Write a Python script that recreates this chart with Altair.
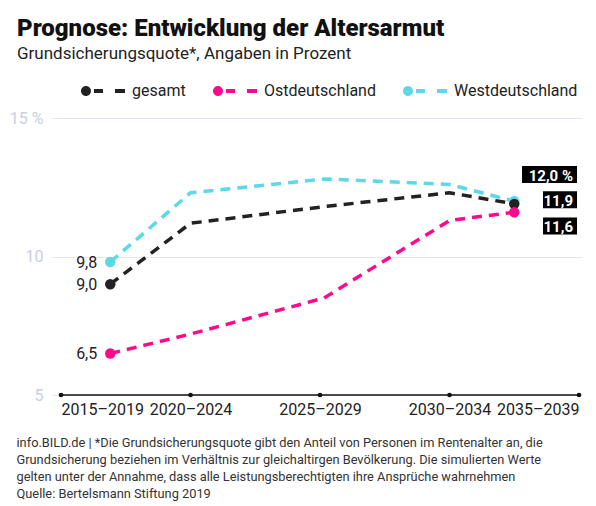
import json
import altair as alt
import pandas as pd

# ---------------- data ----------------
periods = ["2015–2019", "2020–2024", "2025–2029", "2030–2034", "2035–2039"]
# horizontal place of each data point along the period axis (0 = first tick, 4 = last tick)
period_pos = [0.38, 1.0, 2.03, 3.0, 3.5]
series = ["gesamt", "Ostdeutschland", "Westdeutschland"]
gesamt = [9.0, 11.2, 11.8, 12.3, 11.9]
ost = [6.5, 7.2, 8.5, 11.3, 11.6]
west = [9.8, 12.3, 12.8, 12.6, 12.0]
y_ticks = [5, 10, 15]
footer = [
    "info.BILD.de | *Die Grundsicherungsquote gibt den Anteil von Personen im Rentenalter an, die",
    "Grundsicherung beziehen im Verhältnis zur gleichaltirgen Bevölkerung. Die simulierten Werte",
    "gelten unter der Annahme, dass alle Leistungsberechtigten ihre Ansprüche wahrnehmen",
    "Quelle: Bertelsmann Stiftung 2019",
]

# ---------------- styles ----------------
colors = {"gesamt": "#222222", "Ostdeutschland": "#ff0a8c", "Westdeutschland": "#5cd8e6"}
end_label_offset = {"Westdeutschland": -26.5, "gesamt": -4, "Ostdeutschland": 13.8}
FONT = "Roboto"


def de(v):
    return f"{v:.1f}".replace(".", ",")


rows = []
values_by_series = {"Westdeutschland": west, "gesamt": gesamt, "Ostdeutschland": ost}
for s, vals in values_by_series.items():
    for i, v in enumerate(vals):
        rows.append({"series": s, "idx": i, "period": periods[i], "pos": period_pos[i],
                     "value": v, "label": de(v)})
df = pd.DataFrame(rows)
last_idx = len(periods) - 1
top_series = max(values_by_series, key=lambda s: values_by_series[s][-1])
df.loc[(df.idx == last_idx) & (df.series == top_series), "label"] += " %"

ticks = pd.DataFrame({"pos": list(range(len(periods))), "value": min(y_ticks)})

x_scale = alt.Scale(domain=[-0.07, 4.023], nice=False, zero=False)
y_scale = alt.Scale(domain=[min(y_ticks), max(y_ticks)], nice=False, zero=False)
color_scale = alt.Scale(domain=series, range=[colors[s] for s in series])

x_axis = alt.Axis(
    values=list(range(len(periods))),
    labelExpr=json.dumps(periods, ensure_ascii=False) + "[datum.value]",
    labelFlush=12, ticks=False, domain=False, grid=False,
    labelFontSize=16, labelFont=FONT, labelColor="#222222", labelPadding=6,
    titleFontSize=12.8, titleFont=FONT, titleFontWeight="normal", titleColor="#333333",
    titleAlign="left", titleAnchor="start", titleX=-36, titleY=41,
    titleBaseline="top", titleLineHeight=17.3,
)
y_axis = alt.Axis(
    values=y_ticks,
    labelExpr="datum.value == 15 ? datum.label + ' %' : datum.label",
    grid=True, gridColor="#e6e8f0", gridWidth=1, ticks=False, domain=False,
    labelColor="#c8cfe0", labelFontSize=16, labelFont=FONT, labelPadding=9,
    title="",
)

legend_path = ("M-1,0 A0.227,0.227 0 1,0 -0.546,0 A0.227,0.227 0 1,0 -1,0 Z "
               "M-0.41,-0.09 H0 V0.09 H-0.41 Z M0.545,-0.09 H1 V0.09 H0.545 Z")
legend = alt.Legend(
    orient="none", legendX=29, legendY=-49, direction="horizontal", columns=3,
    title=None, symbolType=legend_path, symbolSize=1936, symbolStrokeWidth=0,
    symbolOpacity=1, labelFontSize=16, labelFont=FONT, labelColor="#222222",
    labelOffset=7, columnPadding=27,
)


def X(field):
    return alt.X(field, scale=x_scale, axis=x_axis, title=footer)


def Y(field):
    return alt.Y(field, scale=y_scale, axis=y_axis, title="")


def C():
    return alt.Color("series:N", scale=color_scale, legend=legend)


base = alt.Chart(df)

lines = base.mark_line(strokeWidth=3.5, strokeDash=[10, 7]).encode(
    x=X("pos:Q"), y=Y("value:Q"), color=C(),
)

points = base.transform_filter(
    f"datum.idx == 0 || datum.idx == {last_idx}"
).mark_circle(size=110, opacity=1).encode(
    x=X("pos:Q"), y=Y("value:Q"), color=C(),
)

baseline = alt.Chart(ticks).transform_aggregate(
    lo="min(pos)", hi="max(pos)", groupby=["value"]
).mark_rule(color="#111111", strokeWidth=1.5).encode(
    x=X("lo:Q"), x2="hi:Q", y=Y("value:Q"),
)
tick_dots = alt.Chart(ticks).mark_circle(size=22, color="#111111", opacity=1).encode(
    x=X("pos:Q"), y=Y("value:Q"),
)

left_labels = base.transform_filter("datum.idx == 0").mark_text(
    align="right", baseline="middle", dx=-13, dy=1, fontSize=16, font=FONT, color="#222222"
).encode(x=X("pos:Q"), y=Y("value:Q"), text="label:N")

end_layers = []
for s in series:
    d = base.transform_filter(f"datum.idx == {last_idx} && datum.series == '{s}'")
    lab = df[(df.idx == last_idx) & (df.series == s)]["label"].iloc[0]
    w = 10.5 * len(lab) - 8
    off = end_label_offset[s]
    box = d.mark_rect(color="#000000", xOffset=-2 - w, x2Offset=-2,
                      yOffset=off - 8.5, y2Offset=off + 8.5).encode(
        x=alt.datum(last_idx), x2=alt.datum(last_idx),
        y=Y("value:Q"), y2="value:Q",
    )
    txt = d.mark_text(align="right", baseline="middle", dx=-6, dy=off + 1, fontSize=15,
                      font=FONT, fontWeight="bold", color="#ffffff").encode(
        x=alt.datum(last_idx), y=Y("value:Q"), text="label:N",
    )
    end_layers += [box, txt]

chart = alt.layer(baseline, lines, tick_dots, points, left_labels, *end_layers).properties(
    width=530, height=277,
    title=alt.TitleParams(
        text="Prognose: Entwicklung der Altersarmut",
        subtitle="Grundsicherungsquote*, Angaben in Prozent",
        anchor="start", frame="group", dx=-35, offset=7,
        font=FONT, fontSize=24, fontWeight=900, color="#111111",
        subtitleFont=FONT, subtitleFontSize=17, subtitleColor="#222222", subtitlePadding=5,
    ),
    autosize=alt.AutoSizeParams(type="none"),
    padding={"left": 44, "top": 110, "right": 6, "bottom": 110},
).configure(background="#ffffff", font=FONT).configure_view(strokeWidth=0)

chart.save("out.html", embed_options={"renderer": "svg", "actions": False})
